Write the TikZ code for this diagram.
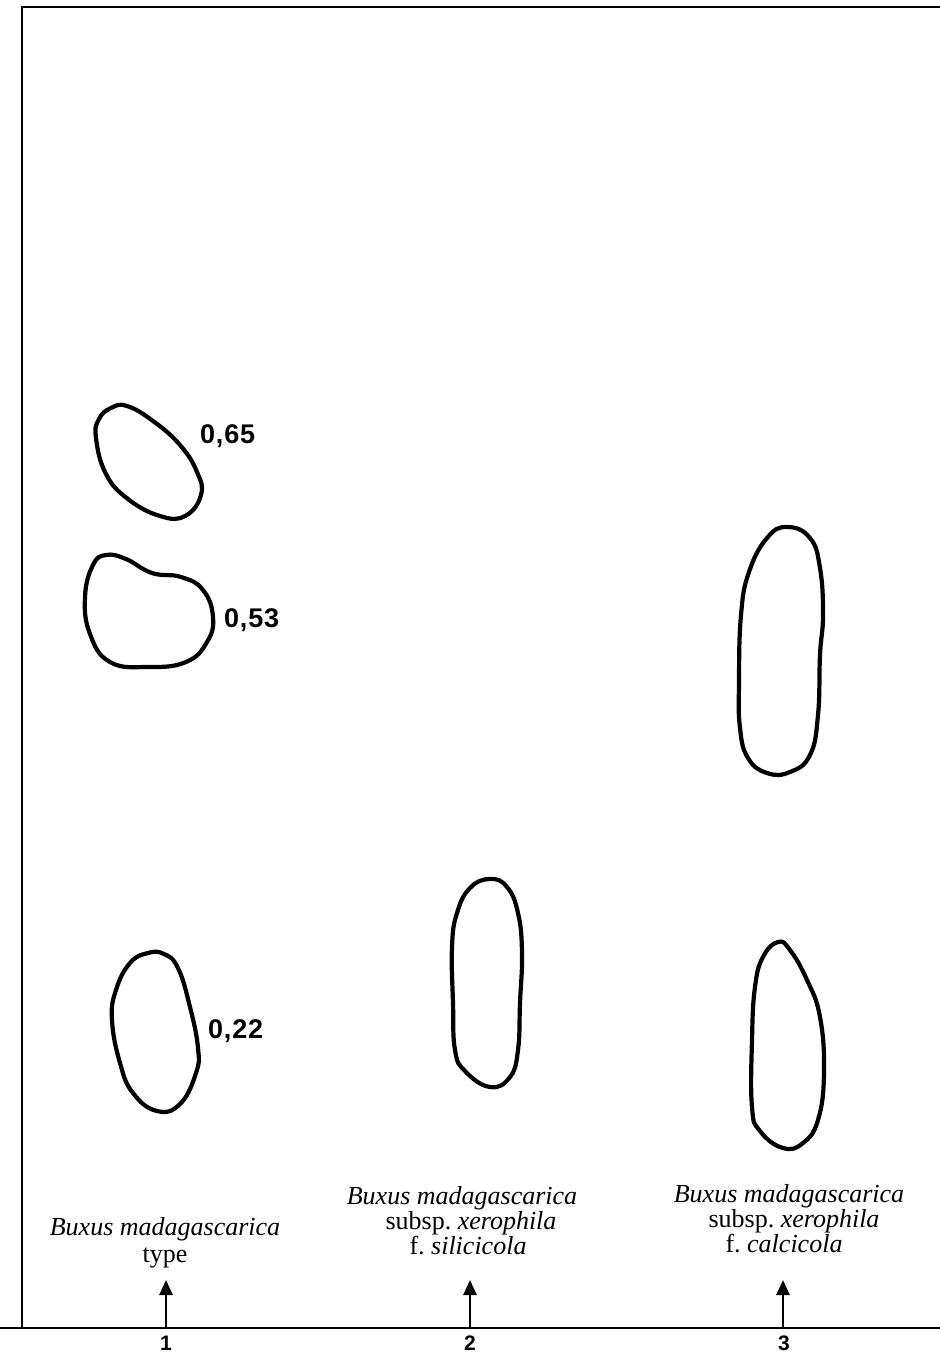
\documentclass[tikz,border=0pt]{standalone}
\usepackage{fontspec}
\setmainfont{Liberation Serif}
\newfontfamily\numfont[LetterSpace=3]{Liberation Sans}
\usetikzlibrary{arrows.meta}
\begin{document}
\begin{tikzpicture}[x=1pt,y=-1pt,
  blob/.style={line width=4.2pt,line join=round},
  framing/.style={line width=2.8pt},
  lbl/.style={font=\fontsize{26}{26}\selectfont,inner sep=0pt,anchor=base},
  val/.style={font=\numfont\bfseries\fontsize{27}{27}\selectfont,inner sep=0pt,anchor=base west},
  lanenum/.style={font=\numfont\bfseries\fontsize{21}{21}\selectfont,inner sep=0pt,anchor=base},
  arr/.style={line width=2.6pt,-{Triangle[length=15pt,width=13pt]}}]
\useasboundingbox (0,0) rectangle (940,1353);
% frame
\coordinate (tr) at (940,7);
\coordinate (tl) at (22,7);
\coordinate (cl) at (22,1328);
\coordinate (bl) at (0,1328);
\coordinate (br) at (940,1328);
\draw[framing] (tr) -- (tl) -- (cl);
\draw[framing] (bl) -- (br);
% spots lane 1
\draw[blob] plot[smooth cycle,tension=0.75] coordinates {(96,438) (99,419) (111,408) (127,406) (153,421) (180,445) (197,472) (201,495) (185,516) (160,516) (128,499) (106,474)};
\draw[blob] plot[smooth cycle,tension=0.75] coordinates {(93,565) (106,555) (126,559) (152,573) (181,577) (203,590) (213,617) (207,642) (186,662) (148,667) (110,662) (90,634) (85,597)};
\draw[blob] plot[smooth cycle,tension=0.75] coordinates {(148,953) (130,963) (116,990) (112,1020) (120,1063) (133,1093) (157,1111) (180,1104) (196,1073) (198,1048) (190,1007) (178,968) (164,954)};
% spots lane 2
\draw[blob] plot[smooth cycle,tension=0.75] coordinates {(490,879) (470,888) (457,913) (452,947) (453,1003) (455,1050) (465,1071) (490,1087) (510,1077) (518,1050) (520,1003) (522,953) (518,913) (507,887)};
% spots lane 3
\draw[blob] plot[smooth cycle,tension=0.75] coordinates {(787,527) (767,538) (749,572) (741,615) (739,682) (740,728) (748,758) (767,773) (790,772) (810,755) (818,715) (820,655) (823,615) (820,568) (810,538)};
\draw[blob] plot[smooth cycle,tension=0.75] coordinates {(778,942) (763,957) (755,987) (752,1040) (752,1107) (760,1131) (783,1148) (803,1143) (818,1120) (824,1073) (820,1017) (807,980) (790,950)};
% Rf values
\node[val] (v65) at (200,443) {0,65};
\node[val] (v53) at (224,627) {0,53};
\node[val] (v22) at (208,1038) {0,22};
% lane labels
\node[lbl] (a1) at (165,1235) {\itshape Buxus madagascarica};
\node[lbl] (a2) at (165,1262) {type};
\node[lbl] (b1) at (462,1204) {\itshape Buxus madagascarica};
\node[lbl] (b2) at (471,1229) {subsp.\ \itshape xerophila};
\node[lbl] (b3) at (468,1254) {f.\ \itshape silicicola};
\node[lbl] (c1) at (789,1202) {\itshape Buxus madagascarica};
\node[lbl] (c2) at (794,1227) {subsp.\ \itshape xerophila};
\node[lbl] (c3) at (784,1252) {f.\ \itshape calcicola};
% arrows
\coordinate (s1) at (166,1328); \coordinate (t1) at (166,1280);
\coordinate (s2) at (470,1328); \coordinate (t2) at (470,1280);
\coordinate (s3) at (783,1328); \coordinate (t3) at (783,1280);
\draw[arr] (s1) -- (t1);
\draw[arr] (s2) -- (t2);
\draw[arr] (s3) -- (t3);
% lane numbers
\node[lanenum] (n1) at (166,1350) {1};
\node[lanenum] (n2) at (470,1350) {2};
\node[lanenum] (n3) at (784,1350) {3};
\end{tikzpicture}
\end{document}
